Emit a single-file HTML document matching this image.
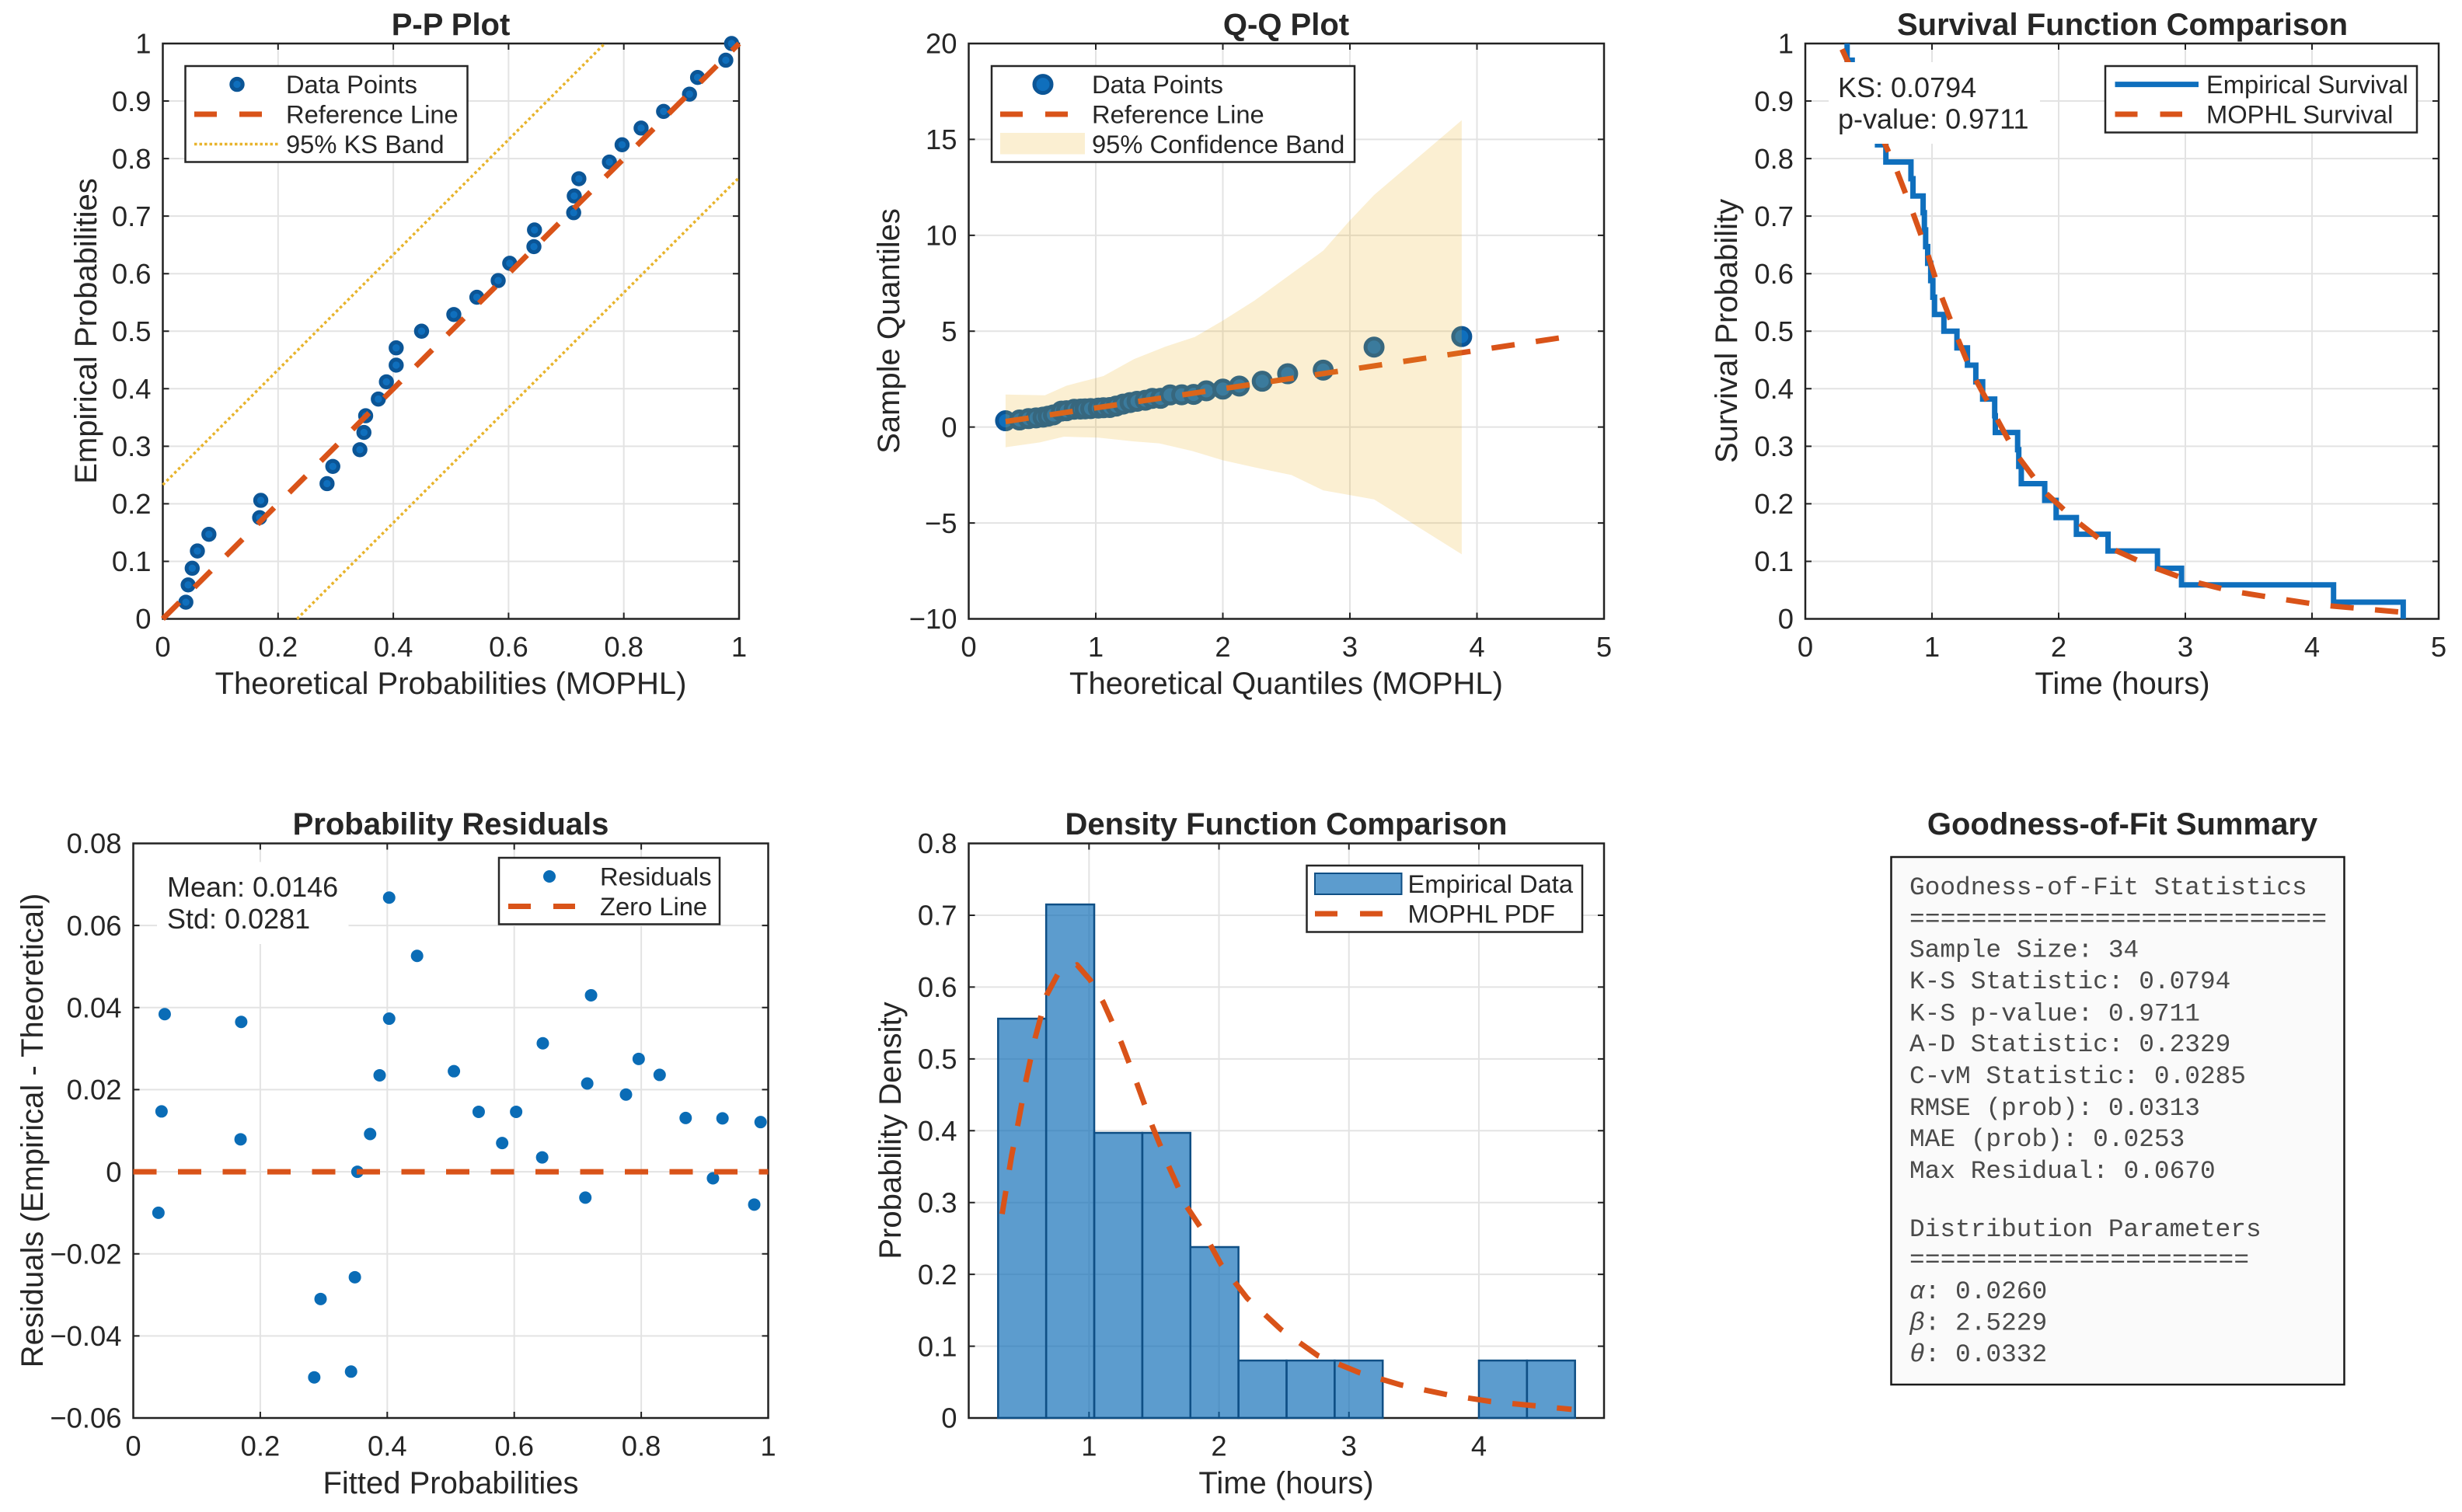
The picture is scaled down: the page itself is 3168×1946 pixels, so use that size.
<!DOCTYPE html>
<html lang="en">
<head>
<meta charset="utf-8">
<title>Goodness-of-Fit Diagnostics</title>
<style>
html,body{margin:0;padding:0;background:#fff;width:3168px;height:1946px;overflow:hidden}
svg{display:block}
text{font-family:"Liberation Sans",Arial,sans-serif;fill:#262626}
.title{font-size:40px;font-weight:bold;text-anchor:middle}
.axis-label{font-size:40px;text-anchor:middle}
.tick{font-size:36.4px}
.leg{font-size:32.7px}
.note{font-size:36px}
.mono{font-family:"Liberation Mono","DejaVu Sans Mono",monospace;font-size:32.8px;fill:#4a4a4a}
.lbox{fill:#fff;stroke:#262626;stroke-width:2.5}
</style>
</head>
<body>
<svg xmlns="http://www.w3.org/2000/svg" width="3168" height="1946" viewBox="0 0 3168 1946">
<rect width="3168" height="1946" fill="#fff"/>

<g>
  <g id="pp-axes"></g>
  <text class="title" x="580" y="45">P-P Plot</text>
  <text class="axis-label" x="580" y="893">Theoretical Probabilities (MOPHL)</text>
  <text class="axis-label" transform="translate(124,426) rotate(-90)">Empirical Probabilities</text>
  <g>
    <rect class="lbox" x="238.5" y="85" width="363" height="123.5"/>
    <circle cx="305" cy="108.6" r="7.2" fill="#0f6fbd" stroke="#0b5596" stroke-width="5"/>
    <line x1="250" x2="337" y1="147" y2="147" stroke="#D95319" stroke-width="7" stroke-dasharray="29 29"/>
    <line x1="250" x2="359" y1="185.5" y2="185.5" stroke="#E8B42C" stroke-width="3.5" stroke-dasharray="3.5 3"/>
    <text class="leg" x="368" y="120">Data Points</text>
    <text class="leg" x="368" y="158.5">Reference Line</text>
    <text class="leg" x="368" y="197">95% KS Band</text>
  </g>
</g>

<g>
  <g id="qq-axes"></g>
  <text class="title" x="1655" y="45">Q-Q Plot</text>
  <text class="axis-label" x="1655" y="893">Theoretical Quantiles (MOPHL)</text>
  <text class="axis-label" transform="translate(1157,426) rotate(-90)">Sample Quantiles</text>
  <g>
    <rect class="lbox" x="1276" y="85" width="467" height="123.5"/>
    <circle cx="1342" cy="108.6" r="11" fill="#0f6fbd" stroke="#0b5596" stroke-width="5"/>
    <line x1="1287" x2="1374" y1="147" y2="147" stroke="#D95319" stroke-width="7" stroke-dasharray="29 29"/>
    <rect x="1287" y="171" width="109" height="27.5" fill="#EDB120" opacity="0.2"/>
    <text class="leg" x="1405" y="120">Data Points</text>
    <text class="leg" x="1405" y="158.5">Reference Line</text>
    <text class="leg" x="1405" y="197">95% Confidence Band</text>
  </g>
</g>

<g>
  <g id="sv-axes"></g>
  <text class="title" x="2731" y="45">Survival Function Comparison</text>
  <text class="axis-label" x="2731" y="893">Time (hours)</text>
  <text class="axis-label" transform="translate(2235,426) rotate(-90)">Survival Probability</text>
  <rect x="2353" y="80" width="272" height="105" fill="#fff"/>
  <text class="note" x="2365" y="125">KS: 0.0794</text>
  <text class="note" x="2365" y="165.5">p-value: 0.9711</text>
  <g>
    <rect class="lbox" x="2709" y="85" width="401" height="85.5"/>
    <line x1="2721.5" x2="2829" y1="108.6" y2="108.6" stroke="#0f6fbd" stroke-width="7"/>
    <line x1="2721.5" x2="2808" y1="147" y2="147" stroke="#D95319" stroke-width="7" stroke-dasharray="29 29"/>
    <text class="leg" x="2839" y="120">Empirical Survival</text>
    <text class="leg" x="2839" y="158.5">MOPHL Survival</text>
  </g>
</g>

<g>
  <g id="rs-axes"></g>
  <text class="title" x="580" y="1074">Probability Residuals</text>
  <text class="axis-label" x="580" y="1922">Fitted Probabilities</text>
  <text class="axis-label" transform="translate(55,1455) rotate(-90)">Residuals (Empirical - Theoretical)</text>
  <rect x="202" y="1109.5" width="246.5" height="105.5" fill="#fff"/>
  <text class="note" x="215" y="1154">Mean: 0.0146</text>
  <text class="note" x="215" y="1195">Std: 0.0281</text>
  <g>
    <rect class="lbox" x="642" y="1104" width="284" height="85.5"/>
    <circle cx="707" cy="1128" r="8" fill="#0a6cb6"/>
    <line x1="654" x2="740" y1="1166.5" y2="1166.5" stroke="#D95319" stroke-width="7" stroke-dasharray="29 29"/>
    <text class="leg" x="772" y="1139.5">Residuals</text>
    <text class="leg" x="772" y="1178">Zero Line</text>
  </g>
</g>

<g>
  <g id="dn-axes"></g>
  <text class="title" x="1655" y="1074">Density Function Comparison</text>
  <text class="axis-label" x="1655" y="1922">Time (hours)</text>
  <text class="axis-label" transform="translate(1159,1455) rotate(-90)">Probability Density</text>
  <g>
    <rect class="lbox" x="1681.5" y="1114" width="354.5" height="85.5"/>
    <rect x="1692" y="1124" width="111.5" height="27" fill="#0868b4" fill-opacity="0.66" stroke="#0f4f85" stroke-width="2"/>
    <line x1="1692" x2="1780.5" y1="1176" y2="1176" stroke="#D95319" stroke-width="7" stroke-dasharray="29 29"/>
    <text class="leg" x="1811.5" y="1149">Empirical Data</text>
    <text class="leg" x="1811.5" y="1187.5">MOPHL PDF</text>
  </g>
</g>

<g>
  <text class="title" x="2731" y="1074">Goodness-of-Fit Summary</text>
  <rect x="2433.5" y="1103" width="583" height="679" fill="#fafafa" stroke="#1a1a1a" stroke-width="2.5"/>
  <g>
    <text class="mono" x="2457" y="1151">Goodness-of-Fit Statistics</text>
    <text class="mono" x="2457" y="1192" textLength="537">===========================</text>
    <text class="mono" x="2457" y="1231.5">Sample Size: 34</text>
    <text class="mono" x="2457" y="1272">K-S Statistic: 0.0794</text>
    <text class="mono" x="2457" y="1313.5">K-S p-value: 0.9711</text>
    <text class="mono" x="2457" y="1353">A-D Statistic: 0.2329</text>
    <text class="mono" x="2457" y="1394">C-vM Statistic: 0.0285</text>
    <text class="mono" x="2457" y="1435">RMSE (prob): 0.0313</text>
    <text class="mono" x="2457" y="1475">MAE (prob): 0.0253</text>
    <text class="mono" x="2457" y="1516">Max Residual: 0.0670</text>
    <text class="mono" x="2457" y="1591">Distribution Parameters</text>
    <text class="mono" x="2457" y="1630.5" textLength="437">======================</text>
    <text class="mono" x="2457" y="1671"><tspan font-style="italic">α</tspan>: 0.0260</text>
    <text class="mono" x="2457" y="1711.5"><tspan font-style="italic">β</tspan>: 2.5229</text>
    <text class="mono" x="2457" y="1752"><tspan font-style="italic">θ</tspan>: 0.0332</text>
  </g>
</g>
</svg>

<script>
// ---------- P-P plot data ----------
const ppTheoretical = [.04,.044,.051,.06,.08,.168,.17,.285,.295,.342,.349,.352,.374,.388,.405,.405,.449,.505,.545,.582,.602,.644,.645,.713,.714,.722,.775,.797,.83,.869,.914,.928,.977,.987];
const ppEmpirical = [.029,.059,.088,.118,.147,.176,.206,.235,.265,.294,.324,.353,.382,.412,.441,.471,.5,.529,.559,.588,.618,.647,.676,.706,.735,.765,.794,.824,.853,.882,.912,.941,.971,1];
const ppReferenceX = [0,1];
const ppReferenceY = [0,1];
const ppUpperBandX = [0,.767];
const ppUpperBandY = [.233,1];
const ppLowerBandX = [.233,1];
const ppLowerBandY = [0,.767];
const ppXTicks = [0,.2,.4,.6,.8,1];
const ppYTicks = [0,.1,.2,.3,.4,.5,.6,.7,.8,.9,1];

// ---------- Q-Q plot data ----------
const qqTheoretical = [.29,.40,.47,.53,.585,.625,.667,.73,.77,.83,.88,.915,.96,1.02,1.06,1.11,1.16,1.215,1.27,1.325,1.39,1.445,1.51,1.585,1.676,1.77,1.87,2.0,2.13,2.31,2.51,2.79,3.19,3.88];
const qqSample = [.33,.37,.44,.48,.52,.57,.636,.834,.85,.93,.94,.95,.966,.99,1.007,1.02,1.094,1.197,1.28,1.346,1.40,1.495,1.50,1.676,1.685,1.705,1.89,1.98,2.14,2.39,2.78,2.97,4.17,4.72];
const qqReferenceX = [.29,4.7];
const qqReferenceY = [.29,4.7];
const qqUpperX = [.29,.6,.77,1.06,1.3,1.55,1.78,2.0,2.25,2.52,2.79,2.99,3.19,3.88];
const qqUpperY = [1.7,1.66,2.16,2.66,3.54,4.2,4.7,5.55,6.6,7.9,9.2,10.7,12.1,16.0];
const qqLowerX = [.29,.56,.75,1.02,1.3,1.5,1.76,2.0,2.25,2.54,2.79,3.19,3.88];
const qqLowerY = [-1.05,-.8,-.5,-.55,-.75,-.85,-1.25,-1.73,-2.1,-2.5,-3.3,-3.77,-6.63];
const qqXTicks = [0,1,2,3,4,5];
const qqYTicks = [-10,-5,0,5,10,15,20];

// ---------- Survival plot data ----------
const svTimes = [.33,.37,.44,.48,.52,.57,.636,.834,.85,.93,.94,.95,.966,.99,1.007,1.02,1.094,1.197,1.28,1.346,1.40,1.495,1.50,1.676,1.685,1.705,1.89,1.98,2.14,2.39,2.78,2.97,4.17,4.72];
const svEmpirical = [.971,.941,.912,.882,.853,.824,.794,.765,.735,.706,.676,.647,.618,.588,.559,.529,.5,.471,.441,.412,.382,.353,.324,.294,.265,.235,.206,.176,.147,.118,.088,.059,.029,0];
const svCurveX = [.29,.5,.64,.71,.834,.958,1.06,1.185,1.31,1.495,1.66,1.887,2.135,2.42,2.73,3.04,3.37,3.77,4.07,4.69];
const svCurveY = [.99,.89,.82,.786,.715,.64,.569,.497,.43,.355,.288,.221,.171,.122,.091,.066,.048,.034,.024,.012];
const svXTicks = [0,1,2,3,4,5];
const svYTicks = [0,.1,.2,.3,.4,.5,.6,.7,.8,.9,1];

// ---------- Residuals plot data ----------
const rsFitted = [.0396,.0445,.0495,.170,.169,.285,.295,.343,.349,.353,.373,.388,.403,.403,.447,.505,.544,.581,.603,.645,.644,.712,.715,.721,.776,.796,.829,.870,.913,.928,.978,.988];
const rsResidual = [-.01,.0147,.0384,.0365,.0079,-.0501,-.031,-.0487,-.0257,0,.0092,.0235,.0668,.0373,.0526,.0245,.0146,.007,.0146,.0313,.0035,-.0063,.0215,.043,.0188,.0275,.0236,.0131,-.0016,.013,-.008,.0121];
const rsZeroX = [0,1];
const rsZeroY = [0,0];
const rsXTicks = [0,.2,.4,.6,.8,1];
const rsYTicks = [-.06,-.04,-.02,0,.02,.04,.06,.08];
const rsYTickLabels = ['−0.06','−0.04','−0.02','0','0.02','0.04','0.06','0.08'];

// ---------- Density plot data ----------
const dnBinEdges = [.30,.67,1.04,1.41,1.78,2.15,2.52,2.89,3.26,3.63,4.00,4.37,4.74];
const dnHeights = [.556,.715,.397,.397,.238,.08,.08,.08,0,0,.08,.08];
const dnPdfX = [.331,.404,.456,.517,.585,.674,.766,.907,1.008,1.109,1.25,1.37,1.49,1.612,1.753,1.874,2.015,2.216,2.478,2.76,3.082,3.4,3.767,4.09,4.713];
const dnPdfY = [.284,.365,.412,.472,.529,.589,.62,.631,.61,.579,.522,.465,.405,.351,.294,.261,.214,.167,.123,.087,.063,.046,.032,.023,.012];
const dnXTicks = [1,2,3,4];
const dnYTicks = [0,.1,.2,.3,.4,.5,.6,.7,.8];

// ---------- helpers ----------
const NS = 'http://www.w3.org/2000/svg';
const INK = '#222222', GRID = '#e3e3e3', ORANGE = '#D95319', GOLD = '#E8B42C', BLUE = '#0f6fbd', EDGE = '#0b5596';
function mk(parent, tag, attrs, txt) {
  const el = document.createElementNS(NS, tag);
  for (const k in attrs) el.setAttribute(k, attrs[k]);
  if (txt !== undefined) el.textContent = txt;
  parent.appendChild(el);
  return el;
}
function scale(d0, d1, r0, r1) { return v => r0 + (v - d0) / (d1 - d0) * (r1 - r0); }
function pathOf(xs, ys, sx, sy) { return xs.map((x, i) => (i ? 'L' : 'M') + sx(x).toFixed(2) + ' ' + sy(ys[i]).toFixed(2)).join(''); }
function fmt(v) { return String(v).replace('-', '−'); }

function axes(id, box, xlim, ylim, xticks, yticks, yLabels) {
  const g = document.getElementById(id);
  const sx = scale(xlim[0], xlim[1], box.l, box.r);
  const sy = scale(ylim[0], ylim[1], box.b, box.t);
  xticks.forEach(v => {
    const x = sx(v);
    if (v !== xlim[0] && v !== xlim[1]) {
      const gl = mk(g, 'line', {x1:x, x2:x, y1:box.t, y2:box.b, stroke:GRID, 'stroke-width':2});
      
      
    }
    const tb = mk(g, 'path', {d:`M${x} ${box.b}v-8M${x} ${box.t}v8`, stroke:INK, 'stroke-width':2, fill:'none'});
    
    
    const tl = mk(g, 'text', {class:'tick', x:x, y:box.b + 48.5, 'text-anchor':'middle'}, fmt(v));
    
    
  });
  yticks.forEach((v, i) => {
    const y = sy(v);
    if (v !== ylim[0] && v !== ylim[1]) {
      const gl = mk(g, 'line', {x1:box.l, x2:box.r, y1:y, y2:y, stroke:GRID, 'stroke-width':2});
      
      
    }
    const tm = mk(g, 'path', {d:`M${box.l} ${y}h8M${box.r} ${y}h-8`, stroke:INK, 'stroke-width':2, fill:'none'});
    
    
    const tl = mk(g, 'text', {class:'tick', x:box.l - 15, y:y + 12.7, 'text-anchor':'end'}, yLabels ? yLabels[i] : fmt(v));
    
    
  });
  const frame = mk(g, 'rect', {x:box.l, y:box.t, width:box.r - box.l, height:box.b - box.t, fill:'none', stroke:INK, 'stroke-width':2.5});
  
  
  return {g, sx, sy};
}
function dashed(ax, xs, ys, name, stroke, width, dash) {
  const p = mk(ax.g, 'path', {d:pathOf(xs, ys, ax.sx, ax.sy), fill:'none', stroke:stroke, 'stroke-width':width, 'stroke-dasharray':dash, 'stroke-linejoin':'round'});
  
  
  return p;
}
function points(ax, xs, ys, name, r, fill, edge, sw) {
  xs.forEach((x, i) => {
    const c = mk(ax.g, 'circle', {cx:ax.sx(x), cy:ax.sy(ys[i]), r:r, fill:fill, stroke:edge, 'stroke-width':sw});
    
    
  });
}

// ---------- P-P ----------
const pp = axes('pp-axes', {l:209.5, r:951, t:56, b:796.5}, [0,1], [0,1], ppXTicks, ppYTicks);
points(pp, ppTheoretical, ppEmpirical, 'pp-data-point', 7.2, BLUE, EDGE, 5);
dashed(pp, ppReferenceX, ppReferenceY, 'pp-reference-line', ORANGE, 7, '30 27.5');
dashed(pp, ppUpperBandX, ppUpperBandY, 'pp-upper-ks-band', GOLD, 3.5, '3.5 3.5');
dashed(pp, ppLowerBandX, ppLowerBandY, 'pp-lower-ks-band', GOLD, 3.5, '3.5 3.5');

// ---------- Q-Q ----------
const qq = axes('qq-axes', {l:1246.5, r:2064, t:56, b:796.5}, [0,5], [-10,20], qqXTicks, qqYTicks);
points(qq, qqTheoretical, qqSample, 'qq-data-point', 11, BLUE, EDGE, 5);
dashed(qq, qqReferenceX, qqReferenceY, 'qq-reference-line', ORANGE, 7, '30 27.5');
const qqBandD = pathOf(qqUpperX.concat(qqLowerX.slice().reverse()), qqUpperY.concat(qqLowerY.slice().reverse()), qq.sx, qq.sy) + 'Z';
const qqBand = mk(qq.g, 'path', {d:qqBandD, fill:'#EDB120', opacity:.2});



// ---------- Survival ----------
const sv = axes('sv-axes', {l:2323, r:3138, t:56, b:796.5}, [0,5], [0,1], svXTicks, svYTicks);
let stepD = 'M' + sv.sx(svTimes[0]).toFixed(2) + ' ' + sv.sy(1).toFixed(2);
svTimes.forEach((t, i) => {
  stepD += 'V' + sv.sy(svEmpirical[i]).toFixed(2);
  if (i < svTimes.length - 1) stepD += 'H' + sv.sx(svTimes[i + 1]).toFixed(2);
});
const stepLine = mk(sv.g, 'path', {d:stepD, fill:'none', stroke:BLUE, 'stroke-width':7});


dashed(sv, svCurveX, svCurveY, 'mophl-survival-line', ORANGE, 7, '30 27.5');

// ---------- Residuals ----------
const rs = axes('rs-axes', {l:171.5, r:988.5, t:1085.5, b:1825}, [0,1], [-.06,.08], rsXTicks, rsYTicks, rsYTickLabels);
points(rs, rsFitted, rsResidual, 'residual-point', 8, '#0a6cb6', '#0a6cb6', 0);
dashed(rs, rsZeroX, rsZeroY, 'zero-line', ORANGE, 7, '30 27.5');

// ---------- Density ----------
const dn = axes('dn-axes', {l:1246.5, r:2064, t:1085.5, b:1825}, [.074,4.963], [0,.8], dnXTicks, dnYTicks);
dnHeights.forEach((h, i) => {
  if (h <= 0) return;
  const x0 = dn.sx(dnBinEdges[i]), x1 = dn.sx(dnBinEdges[i + 1]), y = dn.sy(h), y0 = dn.sy(0);
  const bar = mk(dn.g, 'rect', {x:x0, y:y, width:x1 - x0, height:y0 - y, fill:'#0868b4', 'fill-opacity':.66, stroke:'#0f4f85', 'stroke-width':2.5});
  
  
});
dashed(dn, dnPdfX, dnPdfY, 'mophl-pdf-line', ORANGE, 7, '30 27.5');
</script>
</body>
</html>
